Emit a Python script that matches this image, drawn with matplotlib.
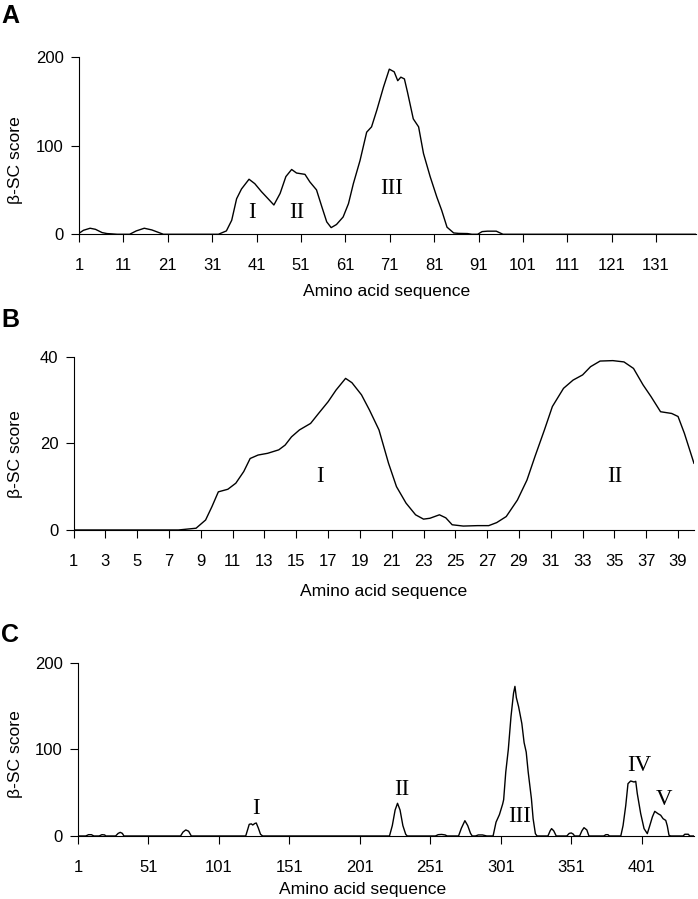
import matplotlib
matplotlib.use('Agg')
import matplotlib.pyplot as plt

plt.rcParams['font.family'] = ['Liberation Sans', 'DejaVu Sans']

# panel A
seq_a = [1, 2, 3.5, 4.7, 6.2, 7.3, 8.5, 9.6, 12.4, 13.9, 15.7, 17.4, 19, 20,
         32.4, 34.2, 35.4, 36.5, 37.6, 39.3, 40.6, 42.1, 43.6, 44.9, 46.3, 47.6,
         48.9, 50, 51.9, 53, 54.5, 55.7, 56.8, 57.8, 59, 60.5, 61.7, 62.8, 64.3,
         65.8, 66.9, 68.1, 69.6, 70.9, 72, 72.8, 73.5, 74.3, 75, 76.3, 77.5, 78.6,
         80.1, 81.6, 82.7, 83.9, 85.4, 86.5, 88.5, 89.5, 90.8, 91.8, 93, 95, 96.5, 140]
score_a = [1.1, 4.5, 6.8, 5.6, 1.9, 0.8, 0.4, 0, 0, 3.8, 6.8, 4.9, 1.9, 0,
           0, 3.8, 15.8, 40, 51, 62, 57, 48, 40, 33, 46, 65,
           73, 69, 67.5, 59, 50, 31, 14, 7.5, 11, 19.5, 34.5, 57, 83,
           115, 121, 140, 166, 186, 183, 173, 177, 175, 160, 130, 121, 91,
           65, 42, 27, 8, 1.5, 1, 0.8, 0, 0, 3, 3.5, 3.5, 0, 0]
labels_a = ['I', 'II', 'III']
label_pos_a = [(40, 24), (50, 24), (71.5, 52)]

# panel B
seq_b = [1, 7.6, 8.7, 9.3, 9.7, 10.1, 10.7, 11.2, 11.7, 12.1, 12.6, 13.2, 13.9,
         14.3, 14.7, 15.2, 15.9, 16.4, 17, 17.5, 18.1, 18.5, 19.1, 19.6, 20.2,
         20.8, 21.3, 21.9, 22.5, 23, 23.4, 24, 24.4, 24.8, 25.5, 26.4, 27.1, 27.6,
         28.2, 28.9, 29.5, 30, 30.6, 31.1, 31.8, 32.4, 33, 33.5, 34.1, 34.9, 35.6,
         36.2, 36.8, 37.3, 37.9, 38.6, 39, 39.4, 40]
score_b = [0, 0, 0.4, 2.3, 5.4, 8.8, 9.4, 10.8, 13.5, 16.5, 17.3, 17.7, 18.5,
           19.6, 21.5, 23.1, 24.6, 26.9, 29.6, 32.3, 35, 34, 31.2, 27.7, 23.1,
           15.4, 10, 6.2, 3.5, 2.5, 2.7, 3.5, 2.8, 1.2, 0.9, 1.0, 1.0, 1.7,
           3.1, 6.9, 11.5, 16.9, 23.1, 28.5, 32.7, 34.6, 35.8, 37.7, 39, 39.1, 38.8,
           37.3, 33.5, 30.8, 27.3, 26.9, 26.2, 22.3, 15.4]
labels_b = ['I', 'II']
label_pos_b = [(16.5, 12.3), (35, 12.3)]

# panel C
seq_c = [1, 6.5, 8.5, 10.5, 12.3, 16, 18, 20, 20.6, 27.7, 29.5, 31, 32.5, 33.6,
         73.8, 75.5, 77.5, 79.5, 81.4, 120, 121.5, 122.5, 124, 125, 126.5, 127.5,
         129, 130.5, 132, 222, 224, 226, 227.7, 229.5, 231.5, 233.5, 234.6,
         254.6, 256.5, 259, 261.5, 262.9, 271, 273, 275.5, 277.5, 279.5, 280.7,
         283, 285, 288, 291, 295.5, 297.6, 300, 302.3, 303, 304.5, 306.3, 308.2,
         310, 311, 312, 313.6, 315.9, 317.5, 319, 320.4, 322.7, 323.9, 325.5, 326.7,
         334.4, 336, 337, 338.5, 340.3, 347.8, 349.5, 351, 352.5, 353.2,
         356.9, 358.5, 360, 362, 363.5, 374, 375.5, 377, 378,
         386.1, 387.7, 389.6, 391.2, 393.1, 395.5, 396.7, 397.8, 400.2, 402.6,
         404.9, 406.6, 408.5, 410.2, 412.5, 414.4, 416.1, 418, 419.1, 420.3, 421.5,
         430.3, 431.5, 434, 435, 438]
score_c = [0, 0, 1.5, 1.5, 0, 0, 1.5, 1.2, 0, 0, 3, 4.2, 3, 0,
           0, 4.5, 7, 5.5, 0, 0, 8, 13.5, 14, 12.7, 14.5, 15,
           9, 2, 0, 0, 12, 30, 37.8, 30, 12, 2, 0,
           0, 1.5, 1.8, 1.2, 0, 0, 9, 17.7, 12, 3, 0,
           0, 1.2, 1.2, 0, 0, 16, 24.7, 37, 42, 74, 100, 138,
           165, 173, 160, 149.5, 130, 108, 97, 74, 43, 20, 2.7, 0,
           0, 6, 8.5, 6, 0, 0, 3, 3.5, 2, 0,
           0, 6, 9.6, 7, 0, 0, 1.5, 1.5, 0,
           0, 12, 35, 60.5, 63.6, 62.4, 63.2, 49, 26, 8.5,
           2.7, 11.6, 22, 28.5, 25.8, 24, 20, 18, 11.6, 0.8, 0,
           0, 2, 2, 0, 0]
labels_c = ['I', 'II', 'III', 'IV', 'V']
label_pos_c = [(127, 32), (230.5, 54), (314.5, 23), (399.5, 81), (417, 42.5)]

panels = [
    ('A', seq_a, score_a, labels_a, label_pos_a, [1, 140], 200, range(1, 141, 10),
     [0.1132, 0.7394, 0.884, 0.1975], (-0.103, 0.418), (0.498, -0.32), 0.9744),
    ('B', seq_b, score_b, labels_b, label_pos_b, [1, 40], 40, range(1, 41, 2),
     [0.1054, 0.4105, 0.8888, 0.1927], (-0.0935, 0.4385), (0.499, -0.355), 0.6363),
    ('C', seq_c, score_c, labels_c, label_pos_c, [1, 438], 200, range(1, 438, 50),
     [0.1117, 0.0701, 0.8825, 0.1924], (-0.101, 0.474), (0.462, -0.31), 0.2859),
]

fig = plt.figure(figsize=(6.98, 8.99), dpi=100)

for letter, x, y, labs, pos, xlim, ymax, xt, rect, ylab_xy, xlab_xy, letter_y in panels:
    ax = fig.add_axes(rect)
    ax.plot(x, y, color='black', linewidth=1.0)
    ax.set_xlim(xlim)
    ax.set_ylim(0, ymax)
    ax.set_xticks(list(xt))
    ax.set_yticks([0, ymax / 2, ymax])
    ax.set_yticklabels([str(int(v)) for v in [0, ymax / 2, ymax]])
    for s in ['top', 'right']:
        ax.spines[s].set_visible(False)
    for s in ['left', 'bottom']:
        ax.spines[s].set_linewidth(0.8)
    ax.tick_params(axis='x', direction='out', length=6, width=0.8, pad=11, labelsize=12)
    ax.tick_params(axis='y', direction='out', length=6, width=0.8, pad=5, labelsize=12)
    ax.set_xlabel('Amino acid sequence', fontsize=12.6, va='center')
    ax.set_ylabel('β-SC score', fontsize=12.6, va='center')
    ax.yaxis.set_label_coords(*ylab_xy)
    ax.xaxis.set_label_coords(*xlab_xy)
    for t, (px, py) in zip(labs, pos):
        ax.text(px, py, t, family='Liberation Serif', fontsize=16.5,
                ha='center', va='center')
    fig.text(0.002, letter_y, letter, fontsize=18, fontweight='bold',
             family='Liberation Sans', ha='left', va='baseline')

fig.savefig('out.png', dpi=100)
